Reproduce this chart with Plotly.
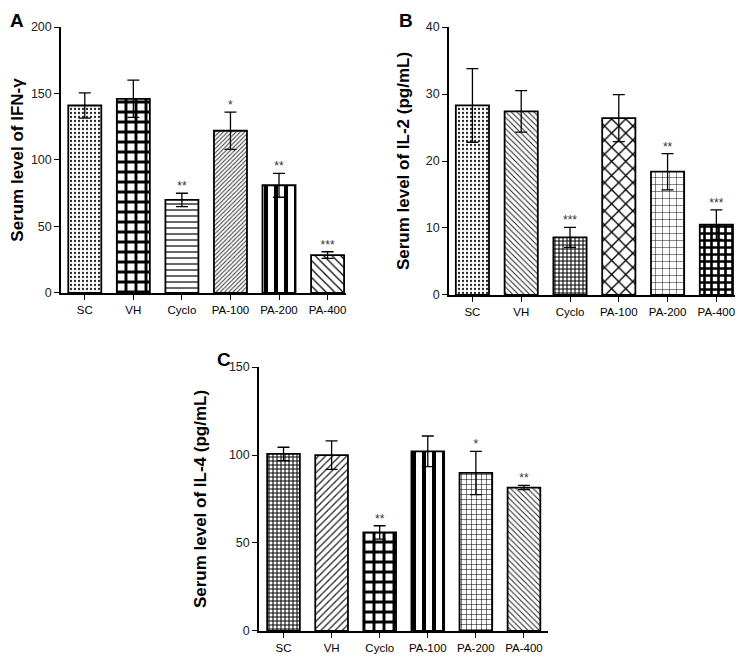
import plotly.graph_objects as go

groups = ["SC", "VH", "Cyclo", "PA-100", "PA-200", "PA-400"]

# panel A: IFN-gamma
ifn_mean = [141, 146, 70, 122, 81, 28.5]
ifn_err = [9.5, 14, 5, 14, 9, 2.5]
ifn_sig = ["", "", "**", "*", "**", "***"]

# panel B: IL-2
il2_mean = [28.3, 27.4, 8.6, 26.4, 18.4, 10.5]
il2_err = [5.5, 3.1, 1.5, 3.5, 2.7, 2.2]
il2_sig = ["", "", "***", "", "**", "***"]

# panel C: IL-4
il4_mean = [100.6, 99.9, 56, 102.1, 89.8, 81.5]
il4_err = [3.8, 8.1, 3.8, 8.7, 12.3, 1.2]
il4_sig = ["", "", "**", "", "*", "**"]

# pattern per bar: (shape, size, solidity, fgcolor)
pat_a = [(".", 4, 0.25, "#222"), ("+", 10, 0.5, "black"), ("-", 6, 0.2, "black"),
         ("/", 3, 0.35, "#444"), ("|", 10, 0.4, "black"), ("\\", 6, 0.2, "black")]
pat_b = [(".", 4, 0.25, "#222"), ("\\", 4, 0.25, "#222"), ("+", 4, 0.45, "black"),
         ("x", 10, 0.25, "black"), ("+", 7, 0.15, "#222"), ("+", 7, 0.6, "black")]
pat_c = [("+", 4, 0.45, "black"), ("/", 5, 0.25, "#222"), ("+", 10, 0.5, "black"),
         ("|", 10, 0.4, "black"), ("+", 5, 0.2, "black"), ("\\", 4, 0.25, "#222")]

FONT = "Arial, Liberation Sans, sans-serif"

fig = go.Figure()


def add_panel(means, errs, sigs, pats, n):
    xa = "x" if n == 1 else "x%d" % n
    ya = "y" if n == 1 else "y%d" % n
    fig.add_trace(go.Bar(
        x=groups, y=means, xaxis=xa, yaxis=ya, width=0.68,
        marker=dict(
            color="white",
            line=dict(color="black", width=1.8),
            pattern=dict(
                shape=[p[0] for p in pats],
                size=[p[1] for p in pats],
                solidity=[p[2] for p in pats],
                fgcolor=[p[3] for p in pats],
                bgcolor="white",
                fillmode="replace",
            ),
        ),
        error_y=dict(type="data", array=errs, visible=True,
                     color="black", thickness=1.3, width=6),
        showlegend=False,
    ))
    fig.add_trace(go.Scatter(
        x=groups, y=[m + e for m, e in zip(means, errs)], xaxis=xa, yaxis=ya,
        mode="text", text=sigs, textposition="top center",
        textfont=dict(size=12, color="#333", family=FONT),
        showlegend=False, cliponaxis=False,
    ))


add_panel(ifn_mean, ifn_err, ifn_sig, pat_a, 1)
add_panel(il2_mean, il2_err, il2_sig, pat_b, 2)
add_panel(il4_mean, il4_err, il4_sig, pat_c, 3)

xcommon = dict(showline=True, linecolor="black", linewidth=1.5, ticks="outside",
               ticklen=5, tickcolor="black", tickwidth=1.3, showgrid=False,
               automargin=False,
               tickfont=dict(size=11.5, color="black", family=FONT))
ycommon = dict(showline=True, linecolor="black", linewidth=1.5, ticks="outside",
               ticklen=5, tickcolor="black", tickwidth=1.3, showgrid=False,
               zeroline=False, automargin=False,
               tickfont=dict(size=12.5, color="#222", family=FONT))


def ytitle(t, gap):
    return dict(text="<b>" + t + "</b>", font=dict(size=17, color="black", family=FONT),
                standoff=gap)


def letter(t, x, y):
    return dict(text="<b>" + t + "</b>", x=x, y=y, xref="paper", yref="paper",
                xanchor="left", yanchor="top", showarrow=False,
                font=dict(size=19, color="black", family=FONT))


# the page body has an 8px margin, so the figure is a little smaller than the window
fig.update_layout(
    width=735, height=649,
    margin=dict(l=0, r=0, t=0, b=0),
    plot_bgcolor="white", paper_bgcolor="white",
    xaxis=dict(domain=[0.0721, 0.4599], range=[-0.49, 5.38], anchor="y", **xcommon),
    yaxis=dict(domain=[0.5609, 0.9707], range=[0, 200], dtick=50, anchor="x",
               title=ytitle("Serum level of IFN-γ", 12), **ycommon),
    xaxis2=dict(domain=[0.6, 0.989], range=[-0.48, 5.38], anchor="y2", **xcommon),
    yaxis2=dict(domain=[0.5578, 0.9707], range=[0, 40], dtick=10, anchor="x2",
                title=ytitle("Serum level of IL-2 (pg/mL)", 12), **ycommon),
    xaxis3=dict(domain=[0.3415, 0.7347], range=[-0.51, 5.5], anchor="y3", **xcommon),
    yaxis3=dict(domain=[0.0401, 0.4468], range=[0, 150], dtick=50, anchor="x3",
                title=ytitle("Serum level of IL-4 (pg/mL)", 18), **ycommon),
    annotations=[
        letter("A", 0.0, 1.0),
        letter("B", 0.529, 1.0),
        letter("C", 0.282, 0.477),
    ],
)

fig.write_html("out.html")
